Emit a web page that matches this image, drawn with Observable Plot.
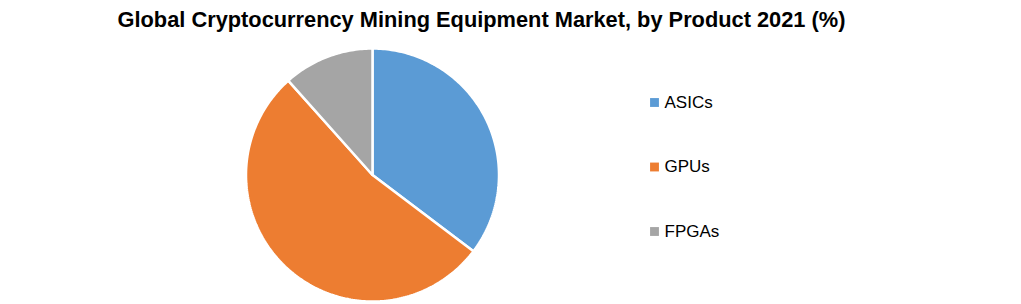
<!DOCTYPE html>
<html>
<head>
<meta charset="utf-8">
<script src="https://cdn.jsdelivr.net/npm/d3@7"></script>
<script src="https://cdn.jsdelivr.net/npm/@observablehq/plot@0.6"></script>
<style>
  body { margin: 0; background: #fff; }
  #chart svg { display: block; }
</style>
</head>
<body>
<div id="chart"></div>
<script>
const title = "Global Cryptocurrency Mining Equipment Market, by Product 2021 (%)";
const categories = ["ASICs", "GPUs", "FPGAs"];
const shares = [35.3, 53.1, 11.6];
const colors = ["#5B9BD5", "#ED7D31", "#A5A5A5"];

const W = 1021, H = 304;
const cx = 372, cy = 174.5, R = 126.5;

// pie angles
const pie = d3.pie().sort(null).value(d => d.value)(categories.map((c, i) => ({name: c, value: shares[i]})));
const polyPts = [];
for (const s of pie) {
  const name = s.data.name;
  polyPts.push({name, x: cx, y: cy});
  const n = Math.max(8, Math.ceil((s.endAngle - s.startAngle) * 60));
  for (let k = 0; k <= n; k++) {
    const a = s.startAngle + (s.endAngle - s.startAngle) * k / n;
    polyPts.push({name, x: cx + R * Math.sin(a), y: cy - R * Math.cos(a)});
  }
  polyPts.push({name, x: cx, y: cy});
}

const legend = categories.map((c, i) => ({name: c, y: 102 + i * 64.5}));

const chart = Plot.plot({
  width: W, height: H,
  margin: 0,
  x: {domain: [0, W], range: [0, W], axis: null},
  y: {domain: [0, H], range: [0, H], axis: null},
  color: {domain: categories, range: colors},
  style: {background: "#fff"},
  marks: [
    Plot.line(polyPts, {x: "x", y: "y", z: "name", fill: "name", stroke: "#fff", strokeWidth: 2.5, strokeLinejoin: "miter", curve: "linear"}),
    Plot.dot(legend, {x: 654, y: "y", symbol: "square", r: 5, fill: "name", stroke: null}),
    Plot.text(legend, {x: 664, y: "y", text: "name", textAnchor: "start", fontSize: 17, fill: "#000", fontFamily: "Liberation Sans, sans-serif"}),
    Plot.text([title], {x: 481, y: 20, text: d => d, fontSize: 21.8, fontWeight: "bold", fill: "#000", fontFamily: "Liberation Sans, sans-serif"})
  ]
});
document.getElementById("chart").append(chart);
</script>
</body>
</html>
